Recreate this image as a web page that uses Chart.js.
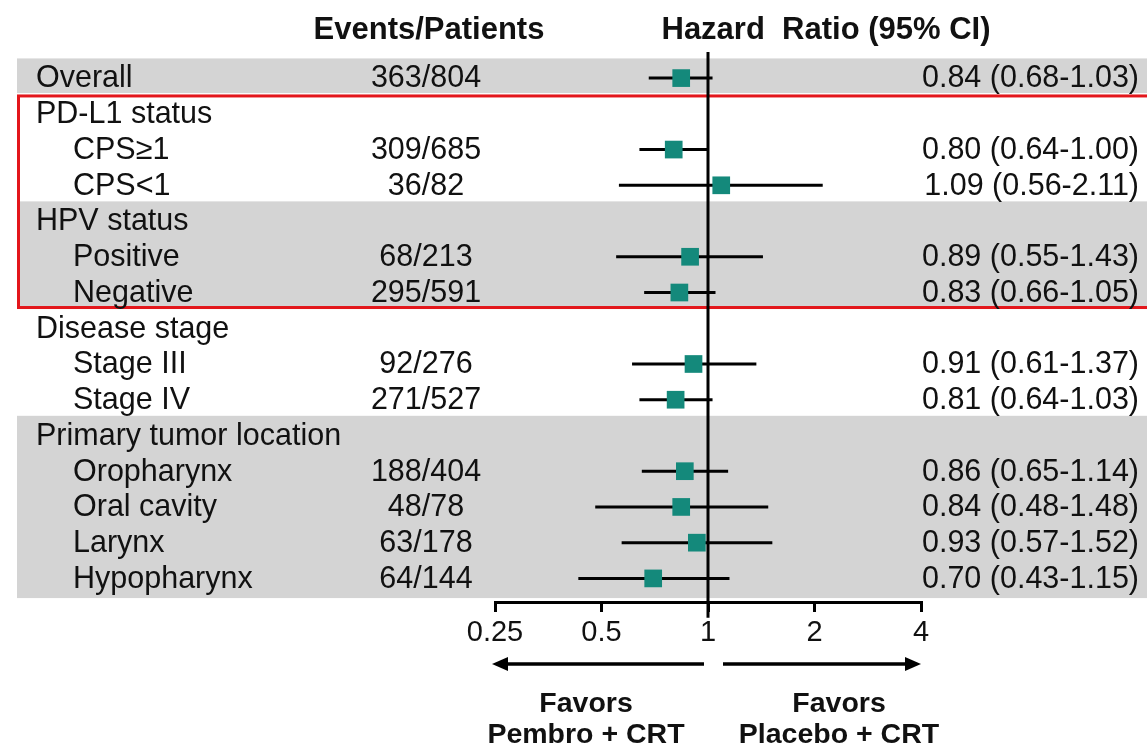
<!DOCTYPE html>
<html>
<head>
<meta charset="utf-8">
<script src="https://cdn.jsdelivr.net/npm/chart.js@4/dist/chart.umd.min.js"></script>
<style>
  body { margin: 0; background: #fff; }
  canvas { display: block; }
</style>
</head>
<body>
<canvas id="forest_chart" width="1147" height="746"></canvas>
<script>
// rows, top to bottom
const rowLabels = ["Overall", "PD-L1 status", "CPS\u22651", "CPS<1", "HPV status", "Positive", "Negative",
    "Disease stage", "Stage III", "Stage IV", "Primary tumor location", "Oropharynx", "Oral cavity", "Larynx", "Hypopharynx"];
const rowIndent = [0, 0, 1, 1, 0, 1, 1, 0, 1, 1, 0, 1, 1, 1, 1];
const events = ["363/804", "", "309/685", "36/82", "", "68/213", "295/591", "", "92/276", "271/527", "", "188/404", "48/78", "63/178", "64/144"];
const hazard = [0.84, null, 0.80, 1.09, null, 0.89, 0.83, null, 0.91, 0.81, null, 0.86, 0.84, 0.93, 0.70];
const ciLow = [0.68, null, 0.64, 0.56, null, 0.55, 0.66, null, 0.61, 0.64, null, 0.65, 0.48, 0.57, 0.43];
const ciHigh = [1.03, null, 1.00, 2.11, null, 1.43, 1.05, null, 1.37, 1.03, null, 1.14, 1.48, 1.52, 1.15];

const xTicks = [0.25, 0.5, 1, 2, 4];
const xTickLabels = ["0.25", "0.5", "1", "2", "4"];

const shadedGroups = [[0, 0], [4, 6], [10, 14]];
const highlightRows = [1, 6];

const FONT = "'Liberation Sans', Arial, sans-serif";

let squares = [], whiskers = [];
hazard.forEach(function (v, i) {
    if (v === null) return;
    squares.push({x: v, y: i});
    whiskers.push({
        type: "line",
        data: [{x: ciLow[i], y: i}, {x: ciHigh[i], y: i}],
        borderColor: "#000",
        borderWidth: 3,
        pointRadius: 0,
        order: 1
    });
});

const forestDecor = {
    id: "forestDecor",
    beforeDatasetsDraw(chart) {
        const ctx = chart.ctx, y = chart.scales.y;
        const rowH = Math.abs(y.getPixelForValue(1) - y.getPixelForValue(0));
        ctx.save();
        ctx.fillStyle = "#d4d4d4";
        shadedGroups.forEach(function (g, k) {
            const top = y.getPixelForValue(g[0]) - rowH * 0.55;
            const bottom = y.getPixelForValue(g[1]) + rowH * (k === shadedGroups.length - 1 ? 0.55 : 0.42);
            ctx.fillRect(17, top, chart.width - 17, bottom - top);
        });
        // red box round PD-L1 and HPV
        const bTop = y.getPixelForValue(highlightRows[0]) - rowH * 0.5;
        const bBottom = y.getPixelForValue(highlightRows[1]) + rowH * 0.42;
        ctx.strokeStyle = "#e3161b";
        ctx.lineWidth = 3;
        ctx.strokeRect(18.5, bTop, chart.width + 10, bBottom - bTop);
        ctx.restore();
    },
    afterDraw(chart) {
        const ctx = chart.ctx, x = chart.scales.x, y = chart.scales.y;
        ctx.save();
        ctx.fillStyle = "#111";
        ctx.textBaseline = "middle";
        ctx.font = "30.5px " + FONT;
        rowLabels.forEach(function (lbl, i) {
            const py = y.getPixelForValue(i) + 1;
            ctx.textAlign = "left";
            ctx.fillText(lbl, rowIndent[i] ? 73 : 36, py);
            ctx.textAlign = "center";
            if (events[i]) ctx.fillText(events[i], 426, py);
            if (hazard[i] !== null) {
                ctx.textAlign = "right";
                ctx.fillText(hazard[i].toFixed(2) + " (" + ciLow[i].toFixed(2) + "-" + ciHigh[i].toFixed(2) + ")", 1139, py);
            }
        });

        ctx.font = "bold 31px " + FONT;
        ctx.textAlign = "center";
        ctx.fillText("Events/Patients", 429, 30);
        ctx.fillText("Hazard  Ratio (95% CI)", 826, 30);

        // arrows under the axis
        const ay = 664;
        const x1 = x.getPixelForValue(1);
        const drawArrow = function (from, to) {
            const dir = Math.sign(to - from);
            ctx.beginPath();
            ctx.moveTo(from, ay);
            ctx.lineTo(to - dir * 12, ay);
            ctx.lineWidth = 3.5;
            ctx.strokeStyle = "#000";
            ctx.stroke();
            ctx.beginPath();
            ctx.moveTo(to, ay);
            ctx.lineTo(to - dir * 16, ay - 7);
            ctx.lineTo(to - dir * 16, ay + 7);
            ctx.closePath();
            ctx.fillStyle = "#000";
            ctx.fill();
        };
        drawArrow(x1 - 4, x.getPixelForValue(0.25) - 3);
        drawArrow(x1 + 15, x.getPixelForValue(4));

        ctx.fillStyle = "#111";
        ctx.font = "bold 28.5px " + FONT;
        ctx.fillText("Favors", 586, 704);
        ctx.fillText("Pembro + CRT", 586, 735);
        ctx.fillText("Favors", 839, 704);
        ctx.fillText("Placebo + CRT", 839, 735);
        ctx.restore();
    }
};

new Chart(document.getElementById("forest_chart").getContext("2d"), {
    type: "scatter",
    data: {
        datasets: [{
            data: squares,
            pointStyle: "rect",
            radius: 12.5,
            backgroundColor: "#14897b",
            borderWidth: 0,
            order: 0
        }].concat(whiskers).concat([{
            type: "line",
            data: [{x: 1, y: -0.73}, {x: 1, y: 15.1}],
            borderColor: "#000",
            borderWidth: 3,
            pointRadius: 0,
            clip: false,
            order: 2
        }])
    },
    options: {
        responsive: false,
        animation: false,
        events: [],
        layout: {padding: {left: 495, right: 226, top: 52, bottom: 0}},
        plugins: {legend: {display: false}, tooltip: {enabled: false}},
        scales: {
            x: {
                type: "logarithmic",
                min: 0.25,
                max: 4,
                afterBuildTicks: function (scale) {
                    scale.ticks = xTicks.map(function (v) { return {value: v}; });
                },
                afterFit: function (scale) {
                    scale.height = 144;
                },
                ticks: {
                    autoSkip: false,
                    maxRotation: 0,
                    padding: 4,
                    color: "#111",
                    font: {size: 29, family: FONT},
                    callback: function (v) { return xTickLabels[xTicks.indexOf(v)]; }
                },
                grid: {drawOnChartArea: false, color: "#000", lineWidth: 3, tickLength: 10},
                border: {color: "#000", width: 3}
            },
            y: {
                type: "linear",
                display: false,
                reverse: true,
                min: -0.73,
                max: 14.66
            }
        }
    },
    plugins: [forestDecor]
});
</script>
</body>
</html>
